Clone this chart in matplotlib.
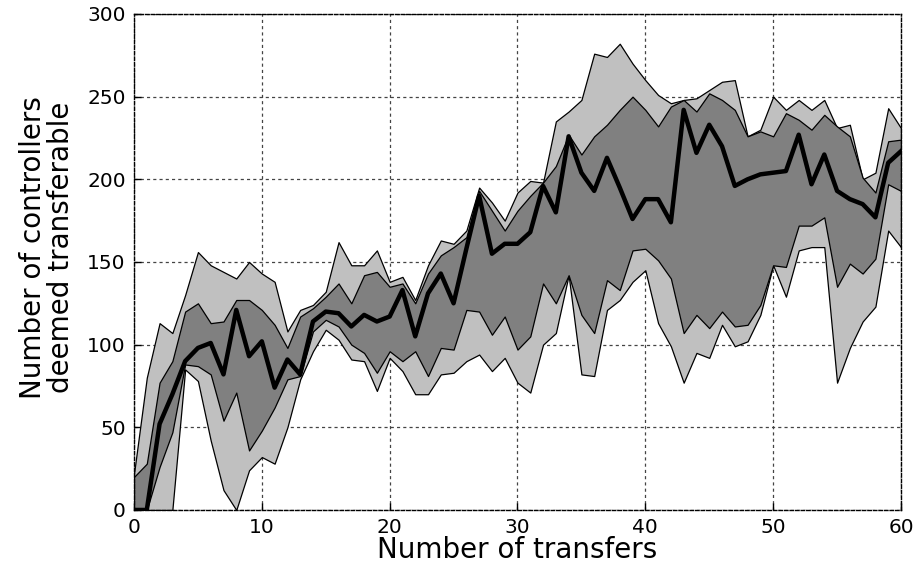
import numpy as np
import matplotlib
matplotlib.use("Agg")
import matplotlib.pyplot as plt

# number of transfers 0..60
transfers = list(range(61))

# mean number of controllers deemed transferable
mean_vals = [0, 0, 52, 70, 90, 98, 101, 82, 121, 93, 102, 74, 91, 82, 114, 120,
             119, 111, 118, 114, 117, 133, 105, 131, 143, 125, 158, 190, 155, 161,
             161, 168, 196, 180, 226, 204, 193, 213, 195, 176, 188, 188, 174, 242,
             216, 233, 220, 196, 200, 203, 204, 205, 227, 197, 215, 193, 188, 185,
             177, 210, 217]

# outer band (min / max)
max_vals = [22, 80, 113, 107, 130, 156, 148, 144, 140, 150, 143, 138, 108, 121, 124,
            132, 162, 148, 148, 157, 138, 141, 127, 148, 163, 161, 169, 195, 186, 175,
            192, 199, 198, 235, 241, 248, 276, 274, 282, 270, 260, 251, 246, 248, 249,
            254, 259, 260, 226, 230, 250, 242, 248, 242, 248, 231, 233, 200, 204, 243,
            231]
min_vals = [0, 0, 0, 0, 85, 78, 42, 12, 0, 24, 32, 28, 50, 79, 96, 109, 103, 91, 90,
            72, 92, 84, 70, 70, 82, 83, 90, 94, 84, 92, 77, 71, 100, 107, 142, 82, 81,
            121, 127, 138, 145, 113, 99, 77, 95, 92, 112, 99, 102, 118, 148, 129, 157,
            159, 159, 77, 98, 114, 123, 169, 159]

# inner band
upper_vals = [20, 28, 77, 90, 120, 125, 113, 114, 127, 127, 121, 112, 98, 117, 122,
              129, 137, 125, 142, 144, 135, 137, 125, 143, 154, 159, 165, 193, 181, 169,
              181, 190, 198, 208, 227, 215, 226, 233, 242, 250, 242, 232, 244, 248, 241,
              252, 248, 242, 226, 229, 226, 240, 236, 230, 239, 232, 226, 201, 192, 223,
              224]
lower_vals = [0, 0, 26, 47, 88, 87, 82, 54, 71, 36, 48, 62, 79, 81, 108, 115, 111, 100,
              95, 83, 96, 90, 96, 81, 98, 97, 121, 120, 106, 117, 97, 105, 137, 125, 142,
              118, 107, 139, 133, 157, 158, 151, 140, 107, 118, 110, 120, 111, 112, 124,
              148, 147, 172, 172, 177, 135, 149, 143, 152, 197, 193]

fig = plt.figure(figsize=(9.16, 5.73), dpi=100)
ax = fig.add_axes([0.1463, 0.110, 0.8373, 0.8656])

ax.fill_between(transfers, min_vals, max_vals, facecolor='#c0c0c0',
                edgecolor='black', linewidth=0.9, zorder=2)
ax.fill_between(transfers, lower_vals, upper_vals, facecolor='#808080',
                edgecolor='black', linewidth=0.9, zorder=3)
ax.plot(transfers, mean_vals, color='black', linewidth=3.2, zorder=4)

ax.set_xlim(0, 60)
ax.set_ylim(0, 300)
ax.set_xticks(range(0, 61, 10))
ax.set_yticks(range(0, 301, 50))
ax.tick_params(direction='in', length=5, width=1, labelsize=14.5, pad=6,
               top=False, right=False)

ax.grid(True, color='#444444', linestyle=(0, (2.5, 2.5)), linewidth=0.9, zorder=1)
ax.set_axisbelow(True)
for sp in ax.spines.values():
    sp.set_linestyle((0, (2.5, 1.5)))
    sp.set_linewidth(1.0)
    sp.set_zorder(5)

ax.set_xlabel("Number of transfers", fontsize=20, labelpad=-1)
ax.set_ylabel("Number of controllers\ndeemed transferable", fontsize=20,
              linespacing=1.0)
ax.yaxis.set_label_coords(-0.077, 0.53)

fig.savefig("out.png", dpi=100)
